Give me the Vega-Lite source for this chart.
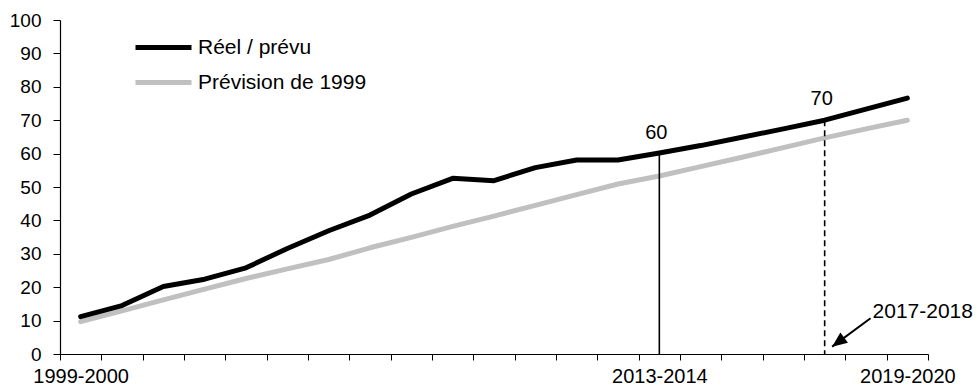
{
  "$schema": "https://vega.github.io/schema/vega-lite/v6.json",
  "width": 868,
  "height": 334,
  "autosize": {"type": "none"},
  "padding": {"left": 60, "top": 20, "right": 52, "bottom": 36},
  "background": "white",
  "config": {
    "view": {"stroke": null},
    "font": "Liberation Sans",
    "axis": {"domainColor": "black", "tickColor": "black", "labelColor": "black", "labelFont": "Liberation Sans", "grid": false, "title": null, "labelOverlap": false}
  },
  "datasets": {
    "series": [
      {"i": 0, "year": "1999-2000", "series": "Prévision de 1999", "value": 9.7},
      {"i": 1, "year": "2000-2001", "series": "Prévision de 1999", "value": 12.9},
      {"i": 2, "year": "2001-2002", "series": "Prévision de 1999", "value": 16.2},
      {"i": 3, "year": "2002-2003", "series": "Prévision de 1999", "value": 19.4},
      {"i": 4, "year": "2003-2004", "series": "Prévision de 1999", "value": 22.6},
      {"i": 5, "year": "2004-2005", "series": "Prévision de 1999", "value": 25.5},
      {"i": 6, "year": "2005-2006", "series": "Prévision de 1999", "value": 28.3},
      {"i": 7, "year": "2006-2007", "series": "Prévision de 1999", "value": 31.8},
      {"i": 8, "year": "2007-2008", "series": "Prévision de 1999", "value": 34.9},
      {"i": 9, "year": "2008-2009", "series": "Prévision de 1999", "value": 38.2},
      {"i": 10, "year": "2009-2010", "series": "Prévision de 1999", "value": 41.3},
      {"i": 11, "year": "2010-2011", "series": "Prévision de 1999", "value": 44.5},
      {"i": 12, "year": "2011-2012", "series": "Prévision de 1999", "value": 47.7},
      {"i": 13, "year": "2012-2013", "series": "Prévision de 1999", "value": 50.9},
      {"i": 14, "year": "2013-2014", "series": "Prévision de 1999", "value": 53.3},
      {"i": 15, "year": "2014-2015", "series": "Prévision de 1999", "value": 56.1},
      {"i": 16, "year": "2015-2016", "series": "Prévision de 1999", "value": 58.9},
      {"i": 17, "year": "2016-2017", "series": "Prévision de 1999", "value": 61.8},
      {"i": 18, "year": "2017-2018", "series": "Prévision de 1999", "value": 64.7},
      {"i": 19, "year": "2018-2019", "series": "Prévision de 1999", "value": 67.4},
      {"i": 20, "year": "2019-2020", "series": "Prévision de 1999", "value": 70.0},
      {"i": 0, "year": "1999-2000", "series": "Réel / prévu", "value": 11.2},
      {"i": 1, "year": "2000-2001", "series": "Réel / prévu", "value": 14.5},
      {"i": 2, "year": "2001-2002", "series": "Réel / prévu", "value": 20.2},
      {"i": 3, "year": "2002-2003", "series": "Réel / prévu", "value": 22.4},
      {"i": 4, "year": "2003-2004", "series": "Réel / prévu", "value": 25.8},
      {"i": 5, "year": "2004-2005", "series": "Réel / prévu", "value": 31.6},
      {"i": 6, "year": "2005-2006", "series": "Réel / prévu", "value": 36.9},
      {"i": 7, "year": "2006-2007", "series": "Réel / prévu", "value": 41.6},
      {"i": 8, "year": "2007-2008", "series": "Réel / prévu", "value": 47.9},
      {"i": 9, "year": "2008-2009", "series": "Réel / prévu", "value": 52.6},
      {"i": 10, "year": "2009-2010", "series": "Réel / prévu", "value": 51.9},
      {"i": 11, "year": "2010-2011", "series": "Réel / prévu", "value": 55.8},
      {"i": 12, "year": "2011-2012", "series": "Réel / prévu", "value": 58.1},
      {"i": 13, "year": "2012-2013", "series": "Réel / prévu", "value": 58.1},
      {"i": 14, "year": "2013-2014", "series": "Réel / prévu", "value": 60.2},
      {"i": 15, "year": "2014-2015", "series": "Réel / prévu", "value": 62.4},
      {"i": 16, "year": "2015-2016", "series": "Réel / prévu", "value": 64.9},
      {"i": 17, "year": "2016-2017", "series": "Réel / prévu", "value": 67.4},
      {"i": 18, "year": "2017-2018", "series": "Réel / prévu", "value": 70.0},
      {"i": 19, "year": "2018-2019", "series": "Réel / prévu", "value": 73.3},
      {"i": 20, "year": "2019-2020", "series": "Réel / prévu", "value": 76.6}
    ],
    "markers": [
      {"i": 14, "year": "2013-2014", "v": 60, "base": 0, "label": "60", "kind": "solid"},
      {"i": 18, "year": "2017-2018", "v": 70, "base": 0, "label": "70", "kind": "dashed"}
    ],
    "arrow": [
      {"x": 19.11, "y": 10.7, "x2": 18.18, "y2": 2.2, "label": "2017-2018"}
    ]
  },
  "layer": [
    {
      "data": {"name": "series"},
      "mark": {"type": "line", "strokeWidth": 5, "strokeCap": "round", "strokeJoin": "round"},
      "encoding": {
        "x": {"field": "i", "type": "quantitative",
          "scale": {"domain": [-0.5, 20.5], "nice": false, "zero": false},
          "axis": {
            "values": [-0.5, 0.5, 1.5, 2.5, 3.5, 4.5, 5.5, 6.5, 7.5, 8.5, 9.5, 10.5, 11.5, 12.5, 13.5, 14.5, 15.5, 16.5, 17.5, 18.5, 19.5, 20.5],
            "labelExpr": "datum.value == -0.5 ? '1999-2000' : datum.value == 13.5 ? '2013-2014' : datum.value == 19.5 ? '2019-2020' : ''",
            "labelOffset": 20.67,
            "labelFontSize": 20,
            "labelOverlap": false,
            "labelFlush": false,
            "labelBound": false,
            "tickSize": 6,
            "labelPadding": 6,
            "domainWidth": 1.2,
            "tickWidth": 1
          }
        },
        "y": {"field": "value", "type": "quantitative",
          "scale": {"domain": [0, 100], "nice": false},
          "axis": {
            "values": [0, 10, 20, 30, 40, 50, 60, 70, 80, 90, 100],
            "tickCount": 11,
            "labelFontSize": 19,
            "labelOverlap": false,
            "tickSize": 7,
            "labelPadding": 12,
            "domainWidth": 1.2,
            "tickWidth": 1
          }
        },
        "color": {"field": "series", "type": "nominal",
          "scale": {"domain": ["Réel / prévu", "Prévision de 1999"], "range": ["#000000", "#c0c0c0"]},
          "legend": {
            "orient": "none",
            "legendX": 87,
            "legendY": 11,
            "title": null,
            "padding": 0,
            "symbolType": "M-2,0H2",
            "symbolStrokeWidth": 5,
            "symbolSize": 784,
            "labelFontSize": 21,
            "labelFont": "Liberation Sans",
            "labelColor": "black",
            "labelLimit": 0,
            "labelOffset": 18,
            "rowPadding": 8
          }
        }
      }
    },
    {
      "data": {"name": "markers"},
      "mark": {"type": "rule", "color": "black", "strokeWidth": 1.6},
      "encoding": {
        "x": {"field": "i", "type": "quantitative"},
        "y": {"field": "v", "type": "quantitative"},
        "y2": {"field": "base"},
        "strokeDash": {"field": "kind", "type": "nominal",
          "scale": {"domain": ["solid", "dashed"], "range": [[1, 0], [6, 4]]},
          "legend": null}
      }
    },
    {
      "data": {"name": "markers"},
      "mark": {"type": "text", "fontSize": 20, "font": "Liberation Sans", "color": "black", "baseline": "alphabetic", "align": "center", "dy": -15, "dx": -3},
      "encoding": {
        "x": {"field": "i", "type": "quantitative"},
        "y": {"field": "v", "type": "quantitative"},
        "text": {"field": "label"}
      }
    },
    {
      "data": {"name": "arrow"},
      "mark": {"type": "rule", "color": "black", "strokeWidth": 2},
      "encoding": {
        "x": {"field": "x", "type": "quantitative"},
        "y": {"field": "y", "type": "quantitative"},
        "x2": {"field": "x2"},
        "y2": {"field": "y2"}
      }
    },
    {
      "data": {"name": "arrow"},
      "mark": {"type": "point", "shape": "M0,0L-0.85,2L0.85,2Z", "size": 225, "filled": true, "color": "black", "opacity": 1, "angle": 233.5},
      "encoding": {
        "x": {"field": "x2", "type": "quantitative"},
        "y": {"field": "y2", "type": "quantitative"}
      }
    },
    {
      "data": {"name": "arrow"},
      "mark": {"type": "text", "fontSize": 21, "font": "Liberation Sans", "color": "black", "baseline": "alphabetic", "align": "left", "dx": 2},
      "encoding": {
        "x": {"field": "x", "type": "quantitative"},
        "y": {"field": "y", "type": "quantitative"},
        "text": {"field": "label"}
      }
    }
  ]
}
